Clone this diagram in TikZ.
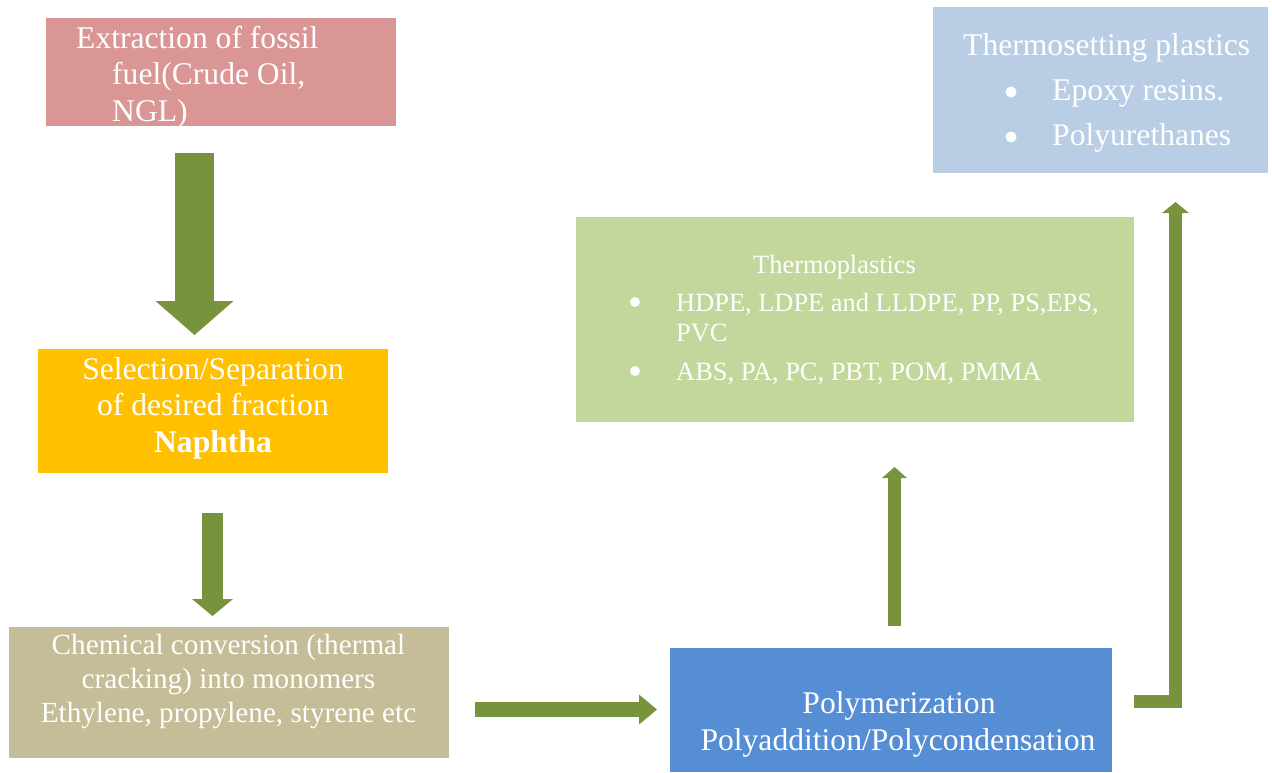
\documentclass[tikz,border=0pt]{standalone}
\usepackage{fontspec}
\setmainfont{Liberation Serif}
\usetikzlibrary{arrows.meta}
\definecolor{cpink}{HTML}{D99694}
\definecolor{corange}{HTML}{FFC000}
\definecolor{ctan}{HTML}{C4BD97}
\definecolor{cblue}{HTML}{558ED5}
\definecolor{cgreen}{HTML}{C3D69B}
\definecolor{clblue}{HTML}{B9CDE5}
\definecolor{carrow}{HTML}{77933C}
\tikzset{
  box/.style={rectangle, draw=none, inner sep=0pt, outer sep=0pt},
  bigtxt/.style={text=white, inner sep=0pt, font=\fontsize{31.6}{36.5}\selectfont},
  midtxt/.style={text=white, inner sep=0pt, font=\fontsize{29.2}{34}\selectfont},
  smalltxt/.style={text=white, inner sep=0pt, font=\fontsize{26.4}{30}\selectfont},
  blockarrow/.style n args={3}{draw=carrow, line width=#1, line join=miter,
    -{Triangle[width=#2, length=#3, line width=0pt]}},
}
\begin{document}
\begin{tikzpicture}[x=1pt,y=-1pt]
\useasboundingbox (0,0) rectangle (1272,772);
% boxes
\node[box, fill=cpink,   minimum width=350pt, minimum height=108pt] (extr)   at (221,72) {};
\node[box, fill=corange, minimum width=350pt, minimum height=124pt] (sel)    at (213,411) {};
\node[box, fill=ctan,    minimum width=440pt, minimum height=131pt] (chem)   at (229,692.5) {};
\node[box, fill=cblue,   minimum width=442pt, minimum height=124pt] (poly)   at (891,710) {};
\node[box, fill=cgreen,  minimum width=558pt, minimum height=205pt] (thermo) at (855,319.5) {};
\node[box, fill=clblue,  minimum width=335pt, minimum height=166pt] (tset)   at (1100.5,90) {};
% texts: extraction
\node[bigtxt, anchor=base west] (t11) at (76,48) {Extraction of fossil};
\node[bigtxt, anchor=base west] (t12) at (112,84) {fuel(Crude Oil,};
\node[bigtxt, anchor=base west] (t13) at (112,121) {NGL)};
% selection
\node[bigtxt, anchor=base] (t21) at (213,379) {Selection/Separation};
\node[bigtxt, anchor=base] (t22) at (213,415) {of desired fraction};
\node[bigtxt, anchor=base] (t23) at (213,452) {\bfseries Naphtha};
% chemical conversion
\node[midtxt, anchor=base] (t31) at (228.5,654) {Chemical conversion (thermal};
\node[midtxt, anchor=base] (t32) at (228.5,688) {cracking) into monomers};
\node[midtxt, anchor=base] (t33) at (228.5,722) {Ethylene, propylene, styrene etc};
% polymerization
\node[bigtxt, anchor=base] (t41) at (899,713) {Polymerization};
\node[bigtxt, anchor=base] (t42) at (898,750) {Polyaddition/Polycondensation};
% thermoplastics
\node[smalltxt, anchor=base west] (t51) at (753,273) {Thermoplastics};
\fill[white] (635,302) circle (5pt);
\node[smalltxt, anchor=base west] (t52) at (676,311) {HDPE, LDPE and LLDPE, PP, PS,EPS,};
\node[smalltxt, anchor=base west] (t53) at (676,341) {PVC};
\fill[white] (635,371) circle (5pt);
\node[smalltxt, anchor=base west] (t54) at (676,380) {ABS, PA, PC, PBT, POM, PMMA};
% thermosetting
\node[bigtxt, anchor=base west] (t61) at (963,55) {Thermosetting plastics};
\fill[white] (1011,92) circle (5.5pt);
\node[bigtxt, anchor=base west] (t62) at (1052,100) {Epoxy resins.};
\fill[white] (1011,137) circle (5.5pt);
\node[bigtxt, anchor=base west] (t63) at (1052,145) {Polyurethanes};
% arrow end points
\coordinate (a1s) at (194.5,153);  \coordinate (a1e) at (194.5,335);
\coordinate (a2s) at (212.5,513);  \coordinate (a2e) at (212.5,616);
\coordinate (a3s) at (475,709.5);  \coordinate (a3e) at (657,709.5);
\coordinate (a4s) at (894.5,626);  \coordinate (a4e) at (894.5,467);
\coordinate (a5s) at (1134,701);   \coordinate (a5e) at (1175.5,202);
% arrows
\draw[blockarrow={39pt}{78pt}{34pt}] (a1s) -- (a1e);
\draw[blockarrow={21pt}{41pt}{17pt}] (a2s) -- (a2e);
\draw[blockarrow={15pt}{30pt}{18pt}] (a3s) -- (a3e);
\draw[blockarrow={13pt}{25pt}{11pt}] (a4s) -- (a4e);
\draw[blockarrow={13pt}{27pt}{11pt}] (a5s) -| (a5e);
\end{tikzpicture}
\end{document}
